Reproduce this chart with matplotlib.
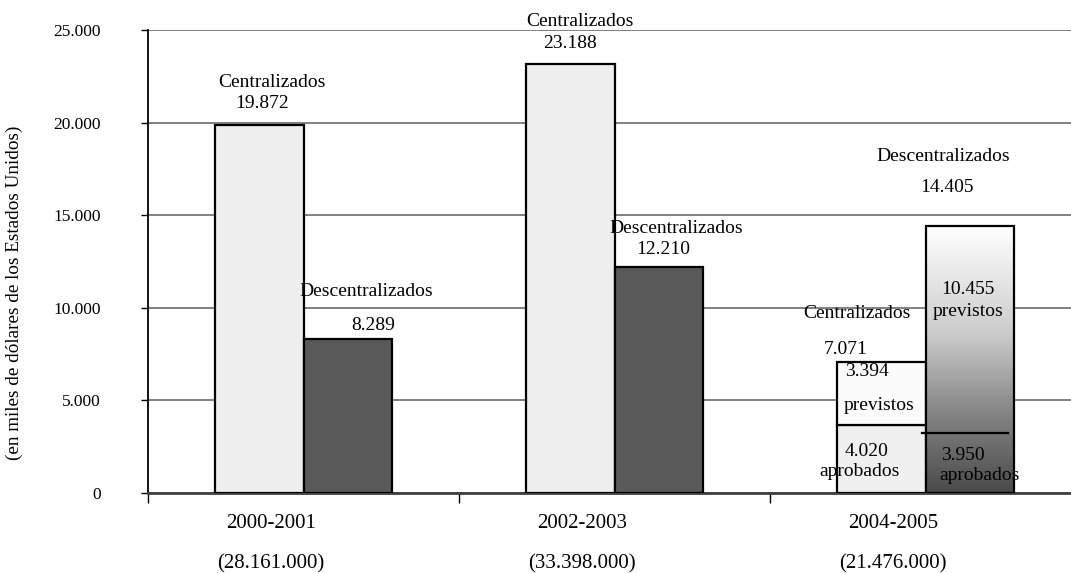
import numpy as np
import matplotlib
matplotlib.use("Agg")
import matplotlib.pyplot as plt
from matplotlib.colors import LinearSegmentedColormap
from matplotlib.patches import Rectangle

# data
periods = ["2000-2001", "2002-2003", "2004-2005"]
totals = ["(28.161.000)", "(33.398.000)", "(21.476.000)"]
centralizados = [19872, 23188, 7071]
descentralizados = [8289, 12210, 14405]
# 2004-2005 split, as drawn
cent_previstos = 3394
cent_aprobados_drawn = 7071 - 3394
desc_previstos = 10455
desc_aprobados_line = 3250  # divider as drawn in the bar
yticks = [0, 5000, 10000, 15000, 20000, 25000]
ytick_labels = ["0", "5.000", "10.000", "15.000", "20.000", "25.000"]

SERIF = ["Liberation Serif", "DejaVu Serif"]
plt.rcParams["font.family"] = SERIF

fig = plt.figure(figsize=(10.71, 5.73), dpi=100)
ax = fig.add_axes([148 / 1071, 80 / 573, 923 / 1071, 463 / 573])

bw = 0.286
light = "#eeeeee"
dark = "#595959"
x = np.arange(3) + 0.5

# first two groups: plain bars
for i in range(2):
    ax.bar(x[i] - bw, centralizados[i], width=bw, align="edge", color=light,
           edgecolor="black", linewidth=1.6, zorder=3)
    ax.bar(x[i], descentralizados[i], width=bw, align="edge", color=dark,
           edgecolor="black", linewidth=1.6, zorder=3)

# third group: centralizados stacked
ax.bar(x[2] - bw, cent_aprobados_drawn, width=bw, align="edge", color="#f0f0f0",
       edgecolor="black", linewidth=1.6, zorder=3)
ax.bar(x[2] - bw, cent_previstos, bottom=cent_aprobados_drawn, width=bw,
       align="edge", color="#fbfbfb", edgecolor="black", linewidth=1.6, zorder=3)

# third group: descentralizados with gradient
cmap = LinearSegmentedColormap.from_list(
    "grad", [(0, "#4a4a4a"), (0.3, "#858585"), (0.6, "#cccccc"), (1, "#ffffff")])
grad = np.linspace(0, 1, 256).reshape(-1, 1)
im = ax.imshow(grad, cmap=cmap, origin="lower", aspect="auto",
               extent=[x[2], x[2] + bw, 0, descentralizados[2]], zorder=3)
rect = Rectangle((x[2], 0), bw, descentralizados[2], facecolor="none",
                 edgecolor="black", linewidth=1.6, zorder=4)
ax.add_patch(rect)
im.set_clip_path(rect)
ax.plot([x[2] - 0.01, x[2] + bw - 0.02], [desc_aprobados_line] * 2,
        color="black", lw=1.6, zorder=5)

# axes styling
ax.set_xlim(0, 923 / 311)
ax.set_ylim(0, 25000)
ax.set_yticks(yticks)
ax.set_yticklabels(ytick_labels)
ax.set_xticks([0, 1, 2])
ax.set_xticklabels([])
ax.tick_params(axis="y", direction="out", length=5, width=1, pad=29, labelsize=12.5)
ax.tick_params(axis="x", direction="out", length=7, width=1)
ax.yaxis.grid(True, color="#808080", linewidth=1.4, zorder=0)
ax.set_axisbelow(True)
for s in ["top", "right"]:
    ax.spines[s].set_visible(False)
ax.spines["left"].set_linewidth(1.3)
ax.spines["bottom"].set_color("#404040")
ax.spines["bottom"].set_linewidth(2)
ax.set_ylabel("(en miles de dólares de los Estados Unidos)", fontsize=13.8)
ax.yaxis.set_label_coords(-0.135, 0.432)

# period labels below the axis
trans = ax.get_xaxis_transform()
for i in range(3):
    ax.text(i + 0.395, -0.065, periods[i], transform=trans, ha="center",
            va="center", fontsize=15)
    ax.text(i + 0.395, -0.152, totals[i], transform=trans, ha="center",
            va="center", fontsize=15)

fs = 14
def label(px, py, s):
    ax.text((px - 148) / 311, (493 - py) / 463 * 25000, s, ha="center",
            va="center", fontsize=fs, zorder=6)

def fmt(v):
    return f"{v:,}".replace(",", ".")

label(272, 83, "Centralizados")
label(262, 104, fmt(centralizados[0]))
label(366, 292, "Descentralizados")
label(373, 326, fmt(descentralizados[0]))

label(580, 21, "Centralizados")
label(570, 43, fmt(centralizados[1]))
label(676, 229, "Descentralizados")
label(663, 250, fmt(descentralizados[1]))

label(943, 157, "Descentralizados")
label(947, 187, fmt(descentralizados[2]))
label(857, 313, "Centralizados")
label(846, 349, fmt(centralizados[2]))
label(968, 289, fmt(desc_previstos))
label(968, 311, "previstos")
label(867, 372, fmt(cent_previstos))
label(879, 406, "previstos")
label(867, 451, "4.020")
label(860, 472, "aprobados")
label(963, 455, "3.950")
label(980, 476, "aprobados")

fig.savefig("out.png", dpi=100)
